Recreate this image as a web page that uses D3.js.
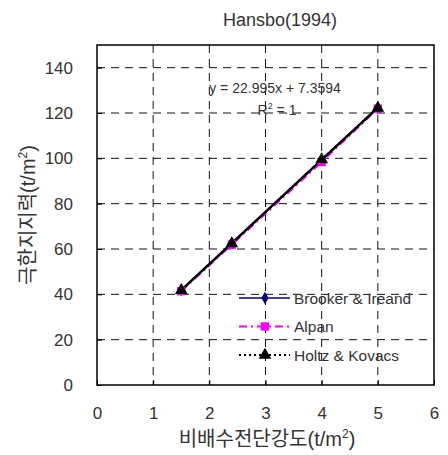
<!DOCTYPE html>
<html>
<head>
<meta charset="utf-8">
<script src="https://cdn.jsdelivr.net/npm/d3@7"></script>
<style>
  body { margin: 0; background: #fff; }
  text { font-family: "Liberation Sans", "Noto Sans CJK KR", sans-serif; fill: #333; }
</style>
</head>
<body>
<svg id="chart" width="448" height="455"></svg>
<script>
// Shear strength (x) and bearing capacity (y) for each method
const xValues = [1.5, 2.4, 4, 5];
const brookerValues = [41.9, 62.5, 99.3, 122.3];
const alpanValues = [41.4, 61.9, 98.4, 121.9];
const holtzValues = [41.8, 62.4, 99.4, 122.2];
const seriesNames = ['Brooker & Ireand', 'Alpan', 'Holtz & Kovacs'];

// Linear trendline endpoints (Excel: y = 22.995x + 7.3594)
const trendX = [1.5, 5];
const trendY = [41.85, 122.35];
const equationLines = ['y = 22.995x + 7.3594', 'R', ' = 1'];

const xTicks = [0, 1, 2, 3, 4, 5, 6];
const yTicks = [0, 20, 40, 60, 80, 100, 120, 140];

const margin = { top: 45, right: 14, bottom: 70, left: 97 };
const svg = d3.select('#chart');
const width = 448 - margin.left - margin.right;
const height = 455 - margin.top - margin.bottom;

const xScale = d3.scaleLinear().domain([0, 6]).range([0, width]);
const yScale = d3.scaleLinear().domain([0, 150]).range([height, 0]);

const chart = svg.append('g')
  .attr('transform', `translate(${margin.left},${margin.top})`);

// Dashed gridlines
chart.append('g')
  .selectAll('line')
  .data(xTicks.filter(d => d > 0 && d < 6))
  .join('line')
  .attr('x1', d => xScale(d)).attr('x2', d => xScale(d))
  .attr('y1', 0).attr('y2', height)
  .attr('stroke', '#111').attr('stroke-width', 1)
  .attr('stroke-dasharray', '8,6');

chart.append('g')
  .selectAll('line')
  .data(yTicks.filter(d => d > 0))
  .join('line')
  .attr('x1', 0).attr('x2', width)
  .attr('y1', d => yScale(d)).attr('y2', d => yScale(d))
  .attr('stroke', '#111').attr('stroke-width', 1)
  .attr('stroke-dasharray', '8,6');

// Frame
chart.append('rect')
  .attr('width', width).attr('height', height)
  .attr('fill', 'none').attr('stroke', '#000').attr('stroke-width', 1.5);

// Axes (labels only, ticks drawn inside)
const xAxisG = chart.append('g')
  .attr('transform', `translate(0,${height})`)
  .call(d3.axisBottom(xScale).tickValues(xTicks).tickSize(-5).tickPadding(22).tickFormat(d3.format('d')));
const yAxisG = chart.append('g')
  .call(d3.axisLeft(yScale).tickValues(yTicks).tickSize(-5).tickPadding(24).tickFormat(d3.format('d')));
[xAxisG, yAxisG].forEach(g => {
  g.select('.domain').remove();
  g.selectAll('.tick line').attr('stroke', '#000');
  g.selectAll('.tick text').attr('font-size', 17).attr('fill', '#333')
    .attr('font-family', '"Liberation Sans", sans-serif');
});

// Series
const line = d3.line().x(d => xScale(d[0])).y(d => yScale(d[1]));
const zip = vals => xValues.map((x, i) => [x, vals[i]]);

const series = [
  { name: seriesNames[0], values: brookerValues, color: '#000080', dash: null, width: 1.5, marker: d3.symbolDiamond, size: 45 },
  { name: seriesNames[1], values: alpanValues, color: '#ff00ff', dash: '8,4,2,4', width: 2, marker: d3.symbolSquare, size: 70 },
  { name: seriesNames[2], values: holtzValues, color: '#000000', dash: '2,3', width: 2, marker: d3.symbolTriangle, size: 70 }
];

series.forEach(s => {
  chart.append('path')
    .datum(zip(s.values))
    .attr('d', line)
    .attr('fill', 'none')
    .attr('stroke', s.color)
    .attr('stroke-width', s.width)
    .attr('stroke-dasharray', s.dash);
});

// Trendline
chart.append('path')
  .datum(trendX.map((x, i) => [x, trendY[i]]))
  .attr('d', line)
  .attr('fill', 'none')
  .attr('stroke', '#000')
  .attr('stroke-width', 2.5);

series.forEach(s => {
  chart.append('g')
    .selectAll('path')
    .data(zip(s.values))
    .join('path')
    .attr('transform', d => `translate(${xScale(d[0])},${yScale(d[1])})`)
    .attr('d', d3.symbol().type(s.marker).size(s.size))
    .attr('fill', s.color);
});

// Equation text
chart.append('text')
  .attr('x', 178).attr('y', 48)
  .attr('text-anchor', 'middle')
  .attr('font-size', 14)
  .text(equationLines[0]);
const r2 = chart.append('text')
  .attr('x', 180).attr('y', 70)
  .attr('text-anchor', 'middle')
  .attr('font-size', 14);
r2.append('tspan').text(equationLines[1]);
r2.append('tspan').attr('dy', -6).attr('font-size', 9).text('2');
r2.append('tspan').attr('dy', 6).text(equationLines[2]);

// Legend
const legend = chart.append('g').attr('transform', 'translate(142,253)');
series.forEach((s, i) => {
  const row = legend.append('g').attr('transform', `translate(0,${i * 28.5})`);
  row.append('line')
    .attr('x1', 0).attr('x2', 51)
    .attr('stroke', s.color)
    .attr('stroke-width', s.width)
    .attr('stroke-dasharray', s.dash);
  row.append('path')
    .attr('transform', 'translate(26,0)')
    .attr('d', d3.symbol().type(s.marker).size(s.size))
    .attr('fill', s.color);
  row.append('text')
    .attr('x', 55).attr('y', 5.5)
    .attr('font-size', 15.5)
    .text(s.name);
});

// Title
svg.append('text')
  .attr('x', 280).attr('y', 26)
  .attr('text-anchor', 'middle')
  .attr('font-size', 18)
  .text('Hansbo(1994)');

// Axis titles
const xTitle = svg.append('text')
  .attr('x', 267).attr('y', 446)
  .attr('text-anchor', 'middle')
  .attr('font-size', 20);
xTitle.append('tspan').text('비배수전단강도(t/m');
xTitle.append('tspan').attr('dy', -8).attr('font-size', 12).text('2');
xTitle.append('tspan').attr('dy', 8).text(')');

const yTitle = svg.append('text')
  .attr('transform', 'translate(35,215) rotate(-90)')
  .attr('text-anchor', 'middle')
  .attr('font-size', 20);
yTitle.append('tspan').text('극한지지력(t/m');
yTitle.append('tspan').attr('dy', -8).attr('font-size', 12).text('2');
yTitle.append('tspan').attr('dy', 8).text(')');
</script>
</body>
</html>
